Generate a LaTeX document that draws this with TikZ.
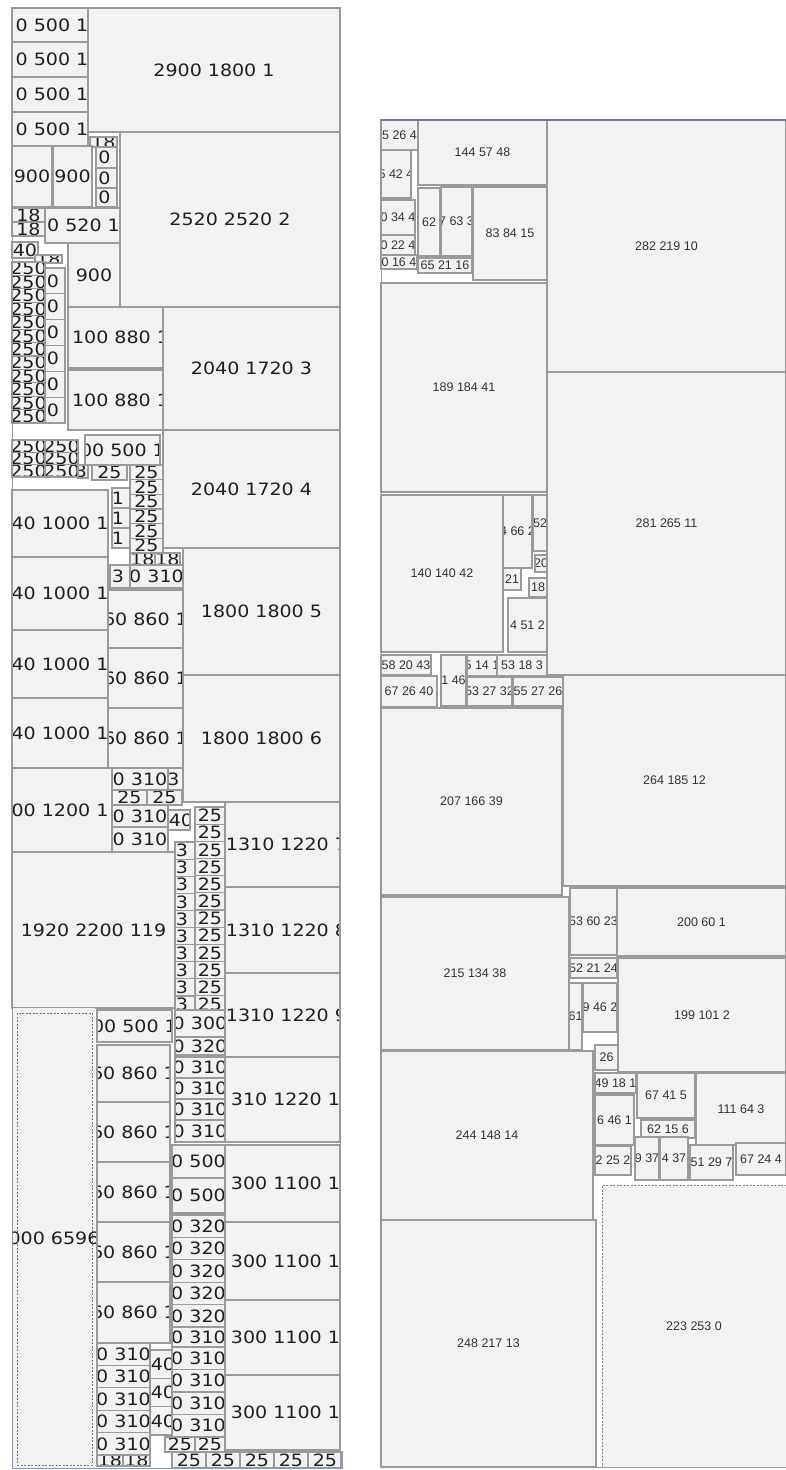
\documentclass[tikz,border=0pt]{standalone}
\usepackage{fontspec}
\newfontfamily\lfontfam[FakeStretch=1.12]{DejaVu Sans}
\newfontfamily\rfontfam{Liberation Sans}
\newcommand\lf{\lfontfam\fontsize{17}{20}\selectfont}
\newcommand\rf{\rfontfam\fontsize{12.5}{14}\selectfont}
\definecolor{boxfill}{HTML}{F2F2F2}
\definecolor{boxline}{HTML}{9A9A9A}
\definecolor{framec}{HTML}{8A9BB5}
\definecolor{ltxt}{HTML}{1E1E1E}
\definecolor{rtxt}{HTML}{333333}
\tikzset{
  txtin/.style={inner sep=0pt, anchor=center, minimum width=0pt, minimum height=0pt, draw=none, fill=none},
  basebox/.style={draw=boxline, fill=boxfill, line width=1.2pt, inner sep=0pt, outer sep=0pt, anchor=north west},
  lbox/.style={basebox, path picture={\node[txtin, font=\lf, text=ltxt] at ([xshift=\bxs pt]path picture bounding box.center) {\bxt};}},
  rbox/.style={basebox, path picture={\node[txtin, font=\rf, text=rtxt] at ([xshift=\bxs pt]path picture bounding box.center) {\bxt};}},
  lboxnd/.style={lbox, draw=none},
  rboxd/.style={rbox, draw=gray, line width=0.8pt, dashed, dash pattern=on 2pt off 1.5pt},
  dashframe/.style={draw=gray!90!black, line width=0.8pt, dash pattern=on 2pt off 1.5pt, inner sep=0pt, outer sep=0pt, anchor=north west},
  framel/.style={draw=framec, line width=1pt},
}
\newcount\bxn
\newcommand\mkbox[7]{%
  \global\advance\bxn by 1
  \pgfmathsetmacro\bxw{#5-#3}%
  \pgfmathsetmacro\bxh{#6-#4}%
  \def\bxs{#2}\def\bxt{#7}%
  \node[#1, minimum width=\bxw pt, minimum height=\bxh pt] (b\the\bxn) at (#3,#4) {};}
\newcommand\lb[6][0]{\mkbox{lbox}{#1}{#2}{#3}{#4}{#5}{#6}}
\newcommand\rb[6][0]{\mkbox{rbox}{#1}{#2}{#3}{#4}{#5}{#6}}
\begin{document}
\begin{tikzpicture}[x=1pt, y=-1pt]
\useasboundingbox (0,0) rectangle (786,1470);
\fill[white] (0,0) rectangle (786,1470);
% ---------------- left panel ----------------
\lb[2]{12}{8}{88}{42}{0 500 1}
\lb[2]{12}{42}{88}{77}{0 500 1}
\lb[2]{12}{77}{88}{112}{0 500 1}
\lb[2]{12}{112}{88}{146}{0 500 1}
\lb{88}{8}{340}{132}{2900 1800 1}
\lb{120}{132}{340}{307}{2520 2520 2}
\lb{90}{137}{117}{147}{18}
\lb{12}{146}{52}{207}{900}
\lb{53}{146}{92}{207}{900}
\lb[-2]{96}{147}{117}{168}{0}
\lb[-2]{96}{168}{117}{188}{0}
\lb[-2]{96}{188}{117}{207}{0}
\lb{12}{208}{45}{222}{18}
\lb{12}{222}{45}{236}{18}
\lb[1]{45}{208}{120}{243}{0 520 1}
\lb{12}{242}{38}{258}{40}
\lb{35}{255}{62}{263}{18}
\foreach \i in {0,...,11}{\pgfmathsetmacro\ya{262+13.42*\i}\pgfmathsetmacro\yb{\ya+13.42}\lb{12}{\ya}{45}{\yb}{250}}
\foreach \i in {0,...,5}{\pgfmathsetmacro\ya{268+25.83*\i}\pgfmathsetmacro\yb{\ya+25.83}\lb[-2]{45}{\ya}{65}{\yb}{0}}
\lb{68}{243}{120}{307}{900}
\lb[5]{68}{307}{163}{368}{100 880 1}
\lb[5]{68}{370}{163}{430}{100 880 1}
\lb{163}{307}{340}{430}{2040 1720 3}
\lb{163}{430}{340}{548}{2040 1720 4}
\lb{85}{435}{160}{465}{00 500 1}
\foreach \i in {0,1,2}{\pgfmathsetmacro\ya{440+12.33*\i}\pgfmathsetmacro\yb{\ya+12.33}\lb{12}{\ya}{45}{\yb}{250}\lb{45}{\ya}{78}{\yb}{250}}
\lb[-2]{78}{465}{88}{478}{3}
\lb{92}{465}{127}{480}{25}
\foreach \i in {0,...,5}{\pgfmathsetmacro\ya{465+14.67*\i}\pgfmathsetmacro\yb{\ya+14.67}\lb{130}{\ya}{163}{\yb}{25}}
\lb[-3]{112}{488}{130}{508}{1}
\lb[-3]{112}{508}{130}{528}{1}
\lb[-3]{112}{528}{130}{548}{1}
\lb{12}{490}{108}{557}{40 1000 1}
\lb{12}{557}{108}{630}{40 1000 1}
\lb{12}{630}{108}{698}{40 1000 1}
\lb{12}{698}{108}{768}{40 1000 1}
\lb{130}{553}{155}{565}{18}
\lb{155}{553}{180}{565}{18}
\lb[-2]{110}{565}{130}{588}{3}
\lb{130}{565}{183}{588}{0 310}
\lb{108}{590}{183}{648}{60 860 1}
\lb{108}{648}{183}{708}{60 860 1}
\lb{108}{708}{183}{768}{60 860 1}
\lb{183}{548}{340}{675}{1800 1800 5}
\lb{183}{675}{340}{802}{1800 1800 6}
\lb[-2]{12}{768}{112}{852}{00 1200 1}
\lb{112}{768}{168}{790}{0 310}
\lb[-2]{168}{768}{183}{790}{3}
\lb{112}{790}{147}{805}{25}
\lb{147}{790}{182}{805}{25}
\lb{112}{805}{168}{827}{0 310}
\lb[2]{168}{810}{190}{830}{40}
\lb{112}{827}{168}{852}{0 310}
\lb[4]{225}{802}{340}{887}{1310 1220 7}
\lb[4]{225}{887}{340}{973}{1310 1220 8}
\lb[4]{225}{973}{340}{1057}{1310 1220 9}
\foreach \i in {0,...,11}{\pgfmathsetmacro\ya{807+17.17*\i}\pgfmathsetmacro\yb{\ya+17.17}\lb{195}{\ya}{225}{\yb}{25}}
\foreach \i in {0,...,9}{\pgfmathsetmacro\ya{842+17.1*\i}\pgfmathsetmacro\yb{\ya+17.1}\lb[-3]{175}{\ya}{195}{\yb}{3}}
\lb{12}{852}{175}{1008}{1920 2200 119}
\mkbox{lboxnd}{0.5}{12}{1008}{95}{1468}{000 6596}
\node[dashframe, minimum width=75pt, minimum height=452pt] (dl) at (17,1013) {};
\lb{97}{1010}{172}{1042}{00 500 1}
\lb{175}{1010}{225}{1037}{0 300}
\lb{175}{1037}{225}{1055}{0 320}
\lb{97}{1045}{170}{1102}{60 860 1}
\lb{97}{1102}{170}{1162}{60 860 1}
\lb{97}{1162}{170}{1222}{60 860 1}
\lb{97}{1222}{170}{1282}{60 860 1}
\lb{97}{1282}{170}{1343}{60 860 1}
\lb{175}{1057}{225}{1078}{0 310}
\lb{175}{1078}{225}{1099}{0 310}
\lb{175}{1099}{225}{1120}{0 310}
\lb{175}{1120}{225}{1142}{0 310}
\lb[3]{225}{1057}{340}{1142}{310 1220 1}
\lb{172}{1145}{225}{1178}{0 500}
\lb{172}{1178}{225}{1213}{0 500}
\lb[3]{225}{1145}{340}{1222}{300 1100 1}
\lb[3]{225}{1222}{340}{1300}{300 1100 1}
\lb[3]{225}{1300}{340}{1375}{300 1100 1}
\lb[3]{225}{1375}{340}{1450}{300 1100 1}
\foreach \i in {0,...,4}{\pgfmathsetmacro\ya{1215+22.4*\i}\pgfmathsetmacro\yb{\ya+22.4}\lb{172}{\ya}{225}{\yb}{0 320}}
\lb{172}{1327}{225}{1347}{0 310}
\foreach \i in {0,...,4}{\pgfmathsetmacro\ya{1343+22.4*\i}\pgfmathsetmacro\yb{\ya+22.4}\lb{97}{\ya}{150}{\yb}{0 310}}
\foreach \i in {0,1,2}{\pgfmathsetmacro\ya{1350+28.33*\i}\pgfmathsetmacro\yb{\ya+28.33}\lb[2]{150}{\ya}{172}{\yb}{40}}
\foreach \i in {0,...,3}{\pgfmathsetmacro\ya{1347+22.5*\i}\pgfmathsetmacro\yb{\ya+22.5}\lb{172}{\ya}{225}{\yb}{0 310}}
\lb{165}{1437}{195}{1452}{25}
\lb{195}{1437}{225}{1452}{25}
\lb{97}{1455}{123}{1466}{18}
\lb{123}{1455}{150}{1466}{18}
\foreach \i in {0,...,4}{\pgfmathsetmacro\xa{172+34*\i}\pgfmathsetmacro\xb{\xa+34}\lb{\xa}{1452}{\xb}{1468}{25}}
\draw[framel] (12,8) rectangle (340,1468);
% ---------------- right panel ----------------
\rb{547}{120}{786}{372}{282 219 10}
\rb{547}{372}{786}{675}{281 265 11}
\rb{563}{675}{786}{886}{264 185 12}
\rb{617}{888}{786}{956}{200 60 1}
\rb{618}{958}{786}{1072}{199 101 2}
\rb{696}{1073}{786}{1145}{111 64 3}
\rb{736}{1143}{786}{1175}{67 24 4}
\mkbox{rboxd}{0}{602}{1185}{786}{1467}{223 253 0}
\rb{381}{1220}{596}{1467}{248 217 13}
\rb{381}{1051}{593}{1220}{244 148 14}
\rb{381}{897}{569}{1050}{215 134 38}
\rb{381}{708}{562}{895}{207 166 39}
\rb{381}{495}{503}{652}{140 140 42}
\rb{381}{283}{547}{492}{189 184 41}
\rb{418}{120}{547}{185}{144 57 48}
\rb{381}{120}{418}{150}{5 26 4}
\rb{381}{150}{411}{198}{5 42 4}
\rb{381}{200}{415}{235}{0 34 4}
\rb{381}{235}{415}{255}{0 22 4}
\rb{381}{255}{417}{269}{0 16 4}
\rb{418}{188}{440}{256}{62}
\rb{441}{187}{472}{256}{7 63 3}
\rb{473}{187}{547}{280}{83 84 15}
\rb{418}{258}{472}{273}{65 21 16}
\rb{503}{495}{532}{568}{4 66 2}
\rb{533}{495}{547}{551}{52}
\rb{535}{555}{547}{572}{20}
\rb{503}{568}{521}{590}{21}
\rb{529}{578}{547}{597}{18}
\rb{508}{598}{547}{652}{4 51 2}
\rb{381}{655}{431}{675}{58 20 43}
\rb{381}{676}{437}{707}{67 26 40}
\rb{441}{655}{466}{706}{1 46}
\rb{467}{655}{497}{676}{5 14 1}
\rb{497}{655}{547}{676}{53 18 3}
\rb{467}{677}{512}{706}{53 27 32}
\rb{513}{677}{563}{706}{55 27 26}
\rb{570}{888}{617}{955}{53 60 23}
\rb{570}{958}{617}{978}{52 21 24}
\rb{569}{983}{582}{1050}{61}
\rb{583}{983}{617}{1032}{9 46 2}
\rb{595}{1045}{618}{1070}{26}
\rb{595}{1073}{636}{1093}{49 18 1}
\rb{595}{1095}{634}{1145}{6 46 1}
\rb{637}{1073}{695}{1118}{67 41 5}
\rb{641}{1120}{695}{1138}{62 15 6}
\rb{595}{1146}{631}{1175}{2 25 2}
\rb{635}{1137}{659}{1180}{9 37}
\rb{660}{1137}{688}{1180}{4 37}
\rb{690}{1145}{733}{1180}{51 29 7}
\draw[framel] (381,120) -- (381,1467) -- (786,1467);
\draw[draw=framec!80!black, line width=2pt] (381,120) -- (786,120);
\end{tikzpicture}
\end{document}
